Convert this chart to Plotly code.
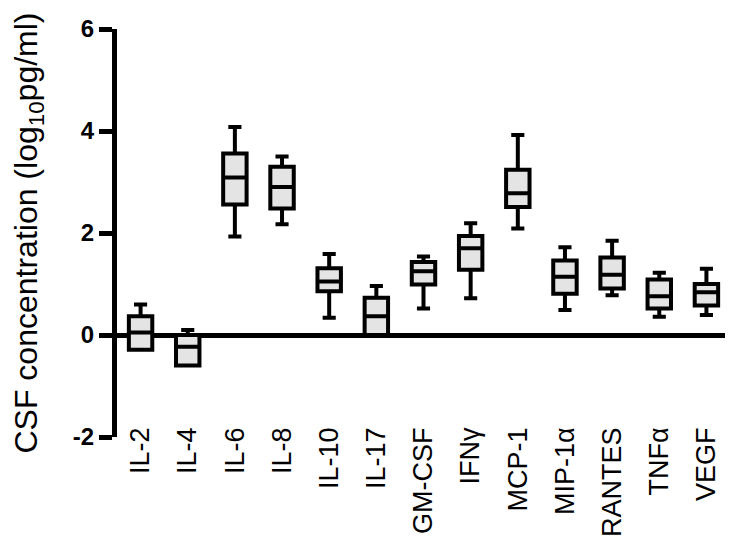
import plotly.graph_objects as go

categories = ["IL-2", "IL-4", "IL-6", "IL-8", "IL-10", "IL-17", "GM-CSF",
              "IFNγ", "MCP-1", "MIP-1α", "RANTES", "TNFα", "VEGF"]
upper = [0.60, 0.10, 4.08, 3.50, 1.59, 0.96, 1.54, 2.19, 3.92, 1.72, 1.85, 1.22, 1.30]
q3 =    [0.37, 0.00, 3.56, 3.30, 1.31, 0.73, 1.43, 1.94, 3.24, 1.46, 1.52, 1.09, 1.00]
median = [0.05, -0.23, 3.09, 2.90, 1.05, 0.37, 1.25, 1.70, 2.78, 1.14, 1.18, 0.76, 0.84]
q1 =    [-0.29, -0.60, 2.56, 2.48, 0.86, 0.00, 0.99, 1.28, 2.51, 0.81, 0.91, 0.52, 0.58]
lower = [-0.29, -0.60, 1.93, 2.17, 0.34, 0.00, 0.52, 0.72, 2.09, 0.49, 0.78, 0.36, 0.39]
y_ticks = [-2, 0, 2, 4, 6]

FONT = "Liberation Sans, Arial, sans-serif"

fig = go.Figure()
fig.add_trace(go.Box(
    x=categories, q1=q1, median=median, q3=q3,
    lowerfence=lower, upperfence=upper,
    boxpoints=False,
    fillcolor="#e4e4e4",
    line=dict(color="black", width=4),
    whiskerwidth=0.56,
    showlegend=False,
    hoverinfo="skip",
))

# page body has an 8px margin, so the figure is sized to fit the 733x550 window
fig.update_layout(
    width=725, height=542,
    margin=dict(l=109, r=3, t=21, b=113),
    paper_bgcolor="white", plot_bgcolor="white",
    boxgap=0.29,
    font=dict(family=FONT, color="black"),
)
fig.update_xaxes(
    type="category", automargin=False,
    range=[-0.5, len(categories) - 0.5],
    showline=False, showgrid=False, zeroline=False,
    ticks="", tickangle=-90,
    ticklabelstandoff=-16,
    tickfont=dict(size=27, family=FONT, color="black"),
)
fig.update_yaxes(
    range=[-2, 6], automargin=False,
    tickvals=y_ticks, ticktext=[str(v) for v in y_ticks],
    showgrid=False,
    showline=True, linecolor="black", linewidth=5,
    zeroline=True, zerolinecolor="black", zerolinewidth=5,
    ticks="outside", ticklen=13, tickwidth=5, tickcolor="black",
    tickfont=dict(size=24, family=FONT, color="black", weight="bold"),
    title=dict(text="CSF concentration (log<sub>10</sub>pg/ml)",
               font=dict(size=32, family=FONT, color="black"), standoff=52),
)

fig.write_html("out.html")
